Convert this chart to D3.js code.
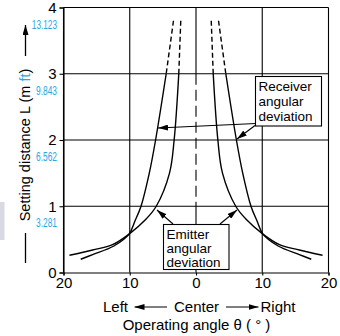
<!DOCTYPE html>
<meta charset="utf-8">
<style>
  body { margin: 0; background: #fff; }
  svg text { font-family: "Liberation Sans", Arial, sans-serif; }
</style>
<body>
<svg width="340" height="336"></svg>
<script src="https://cdn.jsdelivr.net/npm/d3@7"></script>
<script>

// values: angle (deg) vs setting distance (m), one side, mirrored
var receiverAngle = [3.4, 4.5, 6.1, 7.05, 8.3, 9.2, 10.1, 12.4, 15.6, 17.4];
var receiverDist  = [3.8, 3.0, 2.0, 1.5, 1.0, 0.78, 0.58, 0.4, 0.27, 0.2];
var emitterAngle  = [2.3, 2.6, 3.3, 4.0, 6.0, 7.6, 10.1, 12.6, 15.6, 19.1];
var emitterDist   = [3.8, 3.0, 2.0, 1.5, 1.0, 0.8, 0.58, 0.42, 0.34, 0.26];

var yTicks = [0, 1, 2, 3, 4];
var ftLabels = ["", "3.281", "6.562", "9.843", "13.123"];
var xTicks = [-20, -10, 0, 10, 20];

var svg = d3.select("svg");
var x = d3.scaleLinear().domain([-20, 20]).range([63.5, 328.5]),
    y = d3.scaleLinear().domain([0, 4]).range([272.5, 7.5]);

// grid
var g = svg.append("g").attr("stroke", "#000").attr("stroke-width", 1.1);
[1, 2, 3, 4].forEach(function(v) {
  g.append("line").attr("x1", x(-20)).attr("x2", x(20)).attr("y1", y(v)).attr("y2", y(v));
});
[-20, -10, 10, 20].forEach(function(v) {
  g.append("line").attr("x1", x(v)).attr("x2", x(v)).attr("y1", y(0)).attr("y2", y(4));
});
// center line: solid near the ends, dashed in the middle
g.append("line").attr("x1", x(0)).attr("x2", x(0)).attr("y1", y(4)).attr("y2", y(3));
g.append("line").attr("x1", x(0)).attr("x2", x(0)).attr("y1", y(3)).attr("y2", y(1))
  .attr("stroke-dasharray", "11,5");
g.append("line").attr("x1", x(0)).attr("x2", x(0)).attr("y1", y(1)).attr("y2", y(0));

// axes
var ya = svg.append("g").attr("transform", "translate(" + x(-20) + ",0)")
  .call(d3.axisLeft(y).tickValues(yTicks).tickSize(4).tickPadding(3).tickFormat(d3.format("d")));
ya.selectAll("text").attr("font-size", 15).attr("fill", "#000").attr("font-family", null);
ya.selectAll("line, path").attr("stroke", "#000").attr("stroke-width", 1.1);

svg.append("g").selectAll("text").data(yTicks.filter(function(d) { return d > 0; }))
  .enter().append("text")
  .attr("x", 57).attr("y", function(d) { return y(d) + 21; })
  .attr("text-anchor", "end").attr("fill", "#2aa7df").attr("font-size", 13)
  .attr("textLength", function(d) { return ftLabels[d].length * 4.2; })
  .attr("lengthAdjust", "spacingAndGlyphs")
  .text(function(d) { return ftLabels[d]; });

var xa = svg.append("g").attr("transform", "translate(0," + y(0) + ")")
  .call(d3.axisBottom(x).tickValues(xTicks).tickSize(3).tickPadding(2)
    .tickFormat(function(d) { return Math.abs(d); }));
xa.selectAll("text").attr("font-size", 15).attr("fill", "#000").attr("font-family", null);
xa.selectAll("line, path").attr("stroke", "#000").attr("stroke-width", 1.1);

// curves
function pts(angles, dists, sign) {
  return angles.map(function(a, i) { return [sign * a, dists[i]]; });
}
var line = d3.line().x(function(d) { return x(d[0]); }).y(function(d) { return y(d[1]); })
  .curve(d3.curveCatmullRom);
var cg = svg.append("g").attr("fill", "none").attr("stroke", "#000").attr("stroke-width", 1.4);
[[receiverAngle, receiverDist], [emitterAngle, emitterDist]].forEach(function(s) {
  [-1, 1].forEach(function(sign) {
    var p = pts(s[0], s[1], sign);
    cg.append("path").attr("d", line(p.slice(0, 2))).attr("stroke-dasharray", "5,3");
    cg.append("path").attr("d", line(p.slice(1)));
  });
});

// arrows
svg.append("defs").append("marker").attr("id", "ah")
  .attr("viewBox", "0 0 10 6").attr("refX", 10).attr("refY", 3)
  .attr("markerWidth", 10).attr("markerHeight", 6).attr("markerUnits", "userSpaceOnUse")
  .attr("orient", "auto")
  .append("path").attr("d", "M0,0L10,3L0,6Z").attr("fill", "#000");

function arrow(x1, y1, x2, y2) {
  svg.append("line").attr("x1", x1).attr("y1", y1).attr("x2", x2).attr("y2", y2)
    .attr("stroke", "#000").attr("stroke-width", 1.1).attr("marker-end", "url(#ah)");
}
arrow(256, 123.5, 158, 128);
arrow(255, 125.5, 237, 139);
arrow(173, 224, 157, 210);
arrow(220, 224, 237, 210);

function label(x0, y0, w, h, gap, lines) {
  svg.append("rect").attr("x", x0).attr("y", y0).attr("width", w).attr("height", h)
    .attr("fill", "#fff").attr("stroke", "#000").attr("stroke-width", 1.1);
  lines.forEach(function(t, i) {
    svg.append("text").attr("x", x0 + 3).attr("y", y0 + 14 + i * gap)
      .attr("font-size", 13.5).text(t);
  });
}
label(255.5, 76.5, 66, 49.5, 15, ["Receiver", "angular", "deviation"]);
label(163.5, 224.5, 65.5, 45, 14, ["Emitter", "angular", "deviation"]);

// y title
svg.append("rect").attr("x", 0).attr("y", 202).attr("width", 4.5).attr("height", 38).attr("fill", "#d9d9e1");
var yt = svg.append("text").attr("transform", "translate(30,145) rotate(-90)")
  .attr("text-anchor", "middle").attr("font-size", 14.5);
yt.append("tspan").text("Setting distance L (m ");
yt.append("tspan").attr("fill", "#2aa7df").text("ft");
yt.append("tspan").text(")");
svg.append("line").attr("x1", 25.5).attr("x2", 25.5).attr("y1", 233).attr("y2", 263)
  .attr("stroke", "#000").attr("stroke-width", 1.3);
svg.append("line").attr("x1", 25.5).attr("x2", 25.5).attr("y1", 56).attr("y2", 25)
  .attr("stroke", "#000").attr("stroke-width", 1.3).attr("marker-end", "url(#ah)");

// x title
svg.append("text").attr("x", 103).attr("y", 312).attr("font-size", 15).text("Left");
svg.append("text").attr("x", 196.5).attr("y", 312).attr("text-anchor", "middle").attr("font-size", 15).text("Center");
svg.append("text").attr("x", 260.5).attr("y", 312).attr("font-size", 15).text("Right");
arrow(167, 307, 134.5, 307);
arrow(226, 307, 258.5, 307);
svg.append("text").attr("x", 196.5).attr("y", 330).attr("text-anchor", "middle").attr("font-size", 15)
  .text("Operating angle θ ( ° )");

</script>
</body>
